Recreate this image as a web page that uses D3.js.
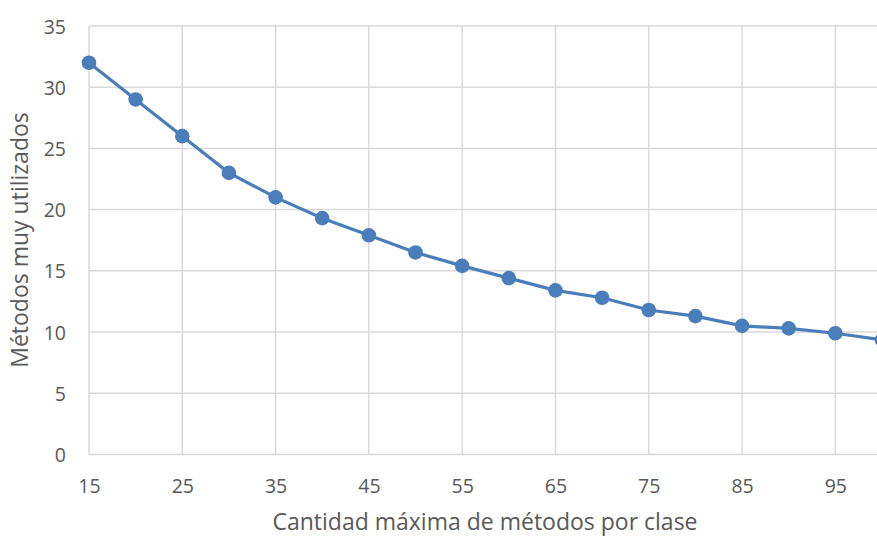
<!DOCTYPE html>
<html><head><meta charset="utf-8">
<script src="https://cdn.jsdelivr.net/npm/d3@7"></script>
<style>body{margin:0;background:#fff;overflow:hidden}</style>
</head><body>
<svg id="c" width="877" height="536"></svg>
<script>
const xValues = [15,20,25,30,35,40,45,50,55,60,65,70,75,80,85,90,95,100];
const yValues = [32,29,26,23,21,19.3,17.9,16.5,15.4,14.4,13.4,12.8,11.8,11.3,10.5,10.3,9.9,9.35];
const xTicks = [15,25,35,45,55,65,75,85,95];
const yTicks = [0,5,10,15,20,25,30,35];
const xTitle = "Cantidad máxima de métodos por clase";
const yTitle = "Métodos muy utilizados";

const svg = d3.select("#c");
const font = "'Open Sans', sans-serif";
const x = d3.scaleLinear().domain([15,100]).range([89,882]);
const y = d3.scaleLinear().domain([0,35]).range([454.4,26]);

// grid
svg.append("g").selectAll("line").data(yTicks).join("line")
  .attr("x1",89).attr("x2",877).attr("y1",d=>y(d)).attr("y2",d=>y(d))
  .attr("stroke","#d9d9d9").attr("stroke-width",1.5);
svg.append("g").selectAll("line").data(xTicks).join("line")
  .attr("x1",d=>x(d)).attr("x2",d=>x(d)).attr("y1",y(35)).attr("y2",y(0))
  .attr("stroke","#d9d9d9").attr("stroke-width",1.5);

// axes labels
const yAxis = d3.axisLeft(y).tickValues(yTicks).tickSize(0).tickPadding(0);
const gy = svg.append("g").attr("transform","translate(66,0)").call(yAxis);
gy.select(".domain").remove();
gy.selectAll("text").attr("font-family",font).attr("font-size",19.5).attr("fill","#595959").attr("dy","0.36em");

const xAxis = d3.axisBottom(x).tickValues(xTicks).tickSize(0).tickPadding(0);
const gx = svg.append("g").attr("transform","translate(0,486)").call(xAxis);
gx.select(".domain").remove();
gx.selectAll("text").attr("font-family",font).attr("font-size",19.5).attr("fill","#595959").attr("dy","0.36em");

svg.append("text").attr("x",485).attr("y",530).attr("text-anchor","middle")
  .attr("font-family",font).attr("font-size",23).attr("fill","#595959").text(xTitle);
svg.append("text").attr("transform","translate(28,240) rotate(-90)").attr("text-anchor","middle")
  .attr("font-family",font).attr("font-size",23).attr("fill","#595959").text(yTitle);

// line
const data = xValues.map((v,i)=>({x:v,y:yValues[i]}));
svg.append("path").datum(data)
  .attr("d",d3.line().x(d=>x(d.x)).y(d=>y(d.y)))
  .attr("fill","none").attr("stroke","#4a7ebb").attr("stroke-width",3.2).attr("stroke-linejoin","round");
svg.append("g").selectAll("circle").data(data).join("circle")
  .attr("cx",d=>x(d.x)).attr("cy",d=>y(d.y)).attr("r",7.3).attr("fill","#4a7ebb");
</script>
</body></html>
